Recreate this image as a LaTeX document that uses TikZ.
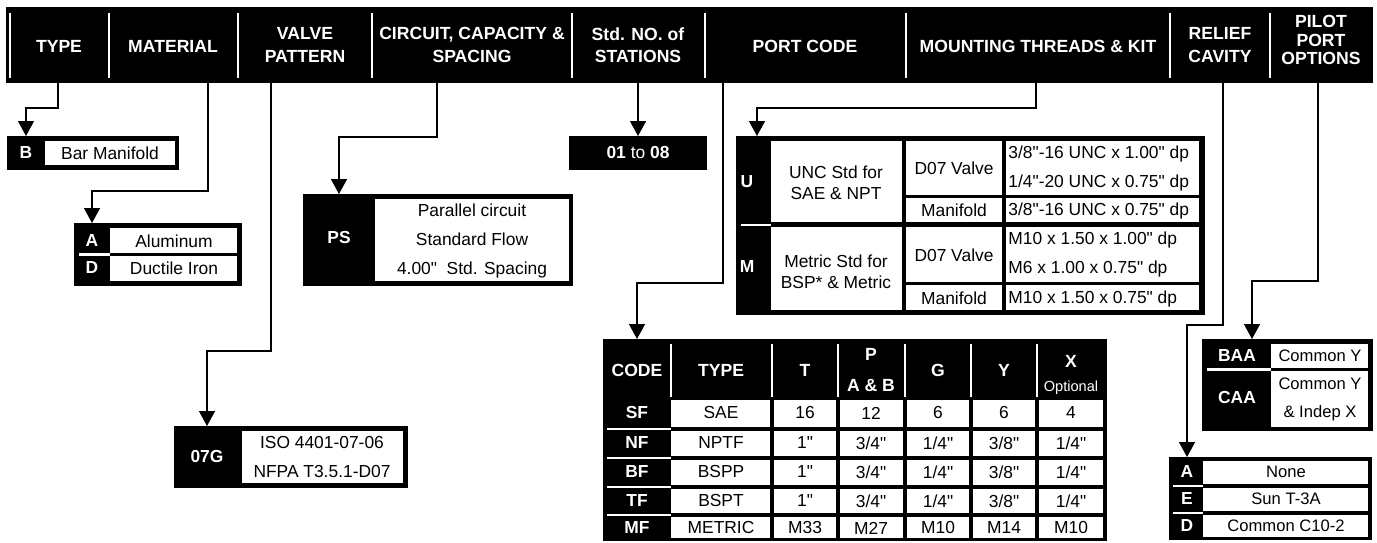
\documentclass[tikz,border=0pt]{standalone}
\usepackage{fontspec}
\setmainfont{Liberation Sans}[Ligatures=TeXOff]
\usetikzlibrary{arrows.meta,calc,fit}

\begin{document}
\begin{tikzpicture}[x=0.5pt, y=-0.5pt,
    every node/.style={font=\fontsize{8.7}{10.5}\selectfont, inner sep=0pt},
    hd/.style={text=white, font=\fontsize{8.8}{11.25}\selectfont\bfseries, align=center},
    code/.style={text=white, font=\fontsize{8.7}{10.5}\selectfont\bfseries},
    frame/.style={fill=black, inner sep=0pt, outer sep=0pt},
    sep/.style={white, line width=1.3pt},
    link/.style={line width=0.7pt, -{Triangle[length=7.5pt, width=8pt]}},
    lst/.style={font=\fontsize{8.7}{14.5}\selectfont, align=center},
    sml/.style={font=\fontsize{8.3}{10}\selectfont}]
    \useasboundingbox (0,0) rectangle (1377,542);
    % Header bar
    \node[frame, fit={(6,7)(1373,83)}] (hdr) {};
    \foreach \x in {10,109,238,372,572,705,906,1170,1270}
      \draw[sep] (\x,13) -- (\x,78);
    \node[hd] (h-type) at (59,46) {TYPE};
    \node[hd] (h-mat) at (173,46) {MATERIAL};
    \node[hd] (h-valve) at (305,45) {VALVE\\PATTERN};
    \node[hd] (h-circ) at (472,45) {CIRCUIT, CAPACITY \&\\SPACING};
    \node[hd] (h-stat) at (638,45) {Std. NO. of\\STATIONS};
    \node[hd] (h-port) at (805,46) {PORT CODE};
    \node[hd] (h-mount) at (1038,46) {MOUNTING THREADS \& KIT};
    \node[hd] (h-relief) at (1220,45) {RELIEF\\CAVITY};
    \node[hd, font=\fontsize{8.8}{9.2}\selectfont\bfseries] (h-pilot) at (1321,40) {PILOT\\PORT\\OPTIONS};
    \foreach \n/\x in {type/58,mat/208,valve/271,circ/437,stat/638,port/723,mount/1036,relief/1223,pilot/1318}
      \coordinate (t-\n) at (\x,83);

    % Type
    \node[frame, fit={(7,136)(179,170)}] (b-box) {};
    \fill[white] (45,141) rectangle (175,165);
    \node[code] (b-code) at (26,153) {B};
    \node (b-txt) at (110,153) {Bar Manifold};

    % Material
    \node[frame, fit={(74,223)(242,286)}] (ad-box) {};
    \fill[white] (110,228) rectangle (237,253);
    \fill[white] (110,256) rectangle (237,281);
    \draw[sep] (79,254.5) -- (110,254.5);
    \node[code] (mat-a) at (92,241) {A};
    \node[code] (mat-d) at (92,268) {D};
    \node (mat-at) at (174,241) {Aluminum};
    \node (mat-dt) at (174,268) {Ductile Iron};

    % Valve pattern
    \node[frame, fit={(174,426)(408,488)}] (g-box) {};
    \fill[white] (242,431) rectangle (403,483);
    \node[code] (g-code) at (207,457) {07G};
    \node[lst] (g-txt) at (322,457) {ISO 4401-07-06\\NFPA T3.5.1-D07};

    % Circuit, capacity & spacing
    \node[frame, fit={(303,194)(573,286)}] (ps-box) {};
    \fill[white] (375,199) rectangle (569,281);
    \node[code] (ps-code) at (339,238) {PS};
    \node[lst] (ps-txt) at (472,241) {Parallel circuit\\Standard Flow\\4.00"\ \ Std. Spacing};

    % Stations
    \node[frame, fit={(569,136)(707,170)}] (n-box) {};
    \node[text=white] (n-txt) at (638,153) {\textbf{01} to \textbf{08}};

    % Mounting threads & kit
    \node[frame, fit={(736,136)(1205,315)}] (mt-box) {};
    \foreach \a/\b/\c/\d in {771/141/902/222, 906/141/1002/195, 1006/141/1199/195,
        906/198/1002/222, 1006/198/1199/222, 771/227/902/310, 906/227/1002/282,
        1006/227/1199/282, 906/285/1002/310, 1006/285/1199/310}
      \fill[white] (\a,\b) rectangle (\c,\d);
    \draw[sep] (741,225) -- (771,225);
    \node[code] (m-u) at (747,182) {U};
    \node[code] (m-m) at (747,267) {M};
    \node[align=center] (m-unc) at (836,183) {UNC Std for\\SAE \& NPT};
    \node[align=center] (m-met) at (836,272) {Metric Std for\\BSP* \& Metric};
    \node (m-v1) at (954,168) {D07 Valve};
    \node (m-f1) at (954,210) {Manifold};
    \node (m-v2) at (954,255) {D07 Valve};
    \node (m-f2) at (954,298) {Manifold};
    \node[anchor=west] (m-t1) at (1008,154) {3/8"-16 UNC x 1.00" dp};
    \node[anchor=west] (m-t2) at (1008,183) {1/4"-20 UNC x 0.75" dp};
    \node[anchor=west] (m-t3) at (1008,211) {3/8"-16 UNC x 0.75" dp};
    \node[anchor=west] (m-t4) at (1008,240) {M10 x 1.50 x 1.00" dp};
    \node[anchor=west] (m-t5) at (1008,269) {M6 x 1.00 x 0.75" dp};
    \node[anchor=west] (m-t6) at (1008,299) {M10 x 1.50 x 0.75" dp};

    % Port code table
    \node[frame, fit={(603,339)(1107,541)}] (pc-box) {};
    \foreach \x in {671,772,838,905,971,1037}
      \draw[sep] (\x,344) -- (\x,397);
    \foreach \a/\b in {671/770, 774/836, 840/903, 907/969, 973/1035, 1039/1103}
      \foreach \c/\d in {400/427, 431/456, 460/485, 489/513, 517/538}
        \fill[white] (\a,\c) rectangle (\b,\d);
    \foreach \y in {429,458,487,515}
      \draw[sep] (607,\y) -- (671,\y);
    \node[hd] (pc-code) at (637,370) {CODE};
    \node[hd] (pc-type) at (721,370) {TYPE};
    \node[hd] (pc-t) at (805,370) {T};
    \node[hd, font=\fontsize{8.8}{15.5}\selectfont\bfseries] (pc-p) at (871,370) {P\\A \& B};
    \node[hd] (pc-g) at (938,370) {G};
    \node[hd] (pc-y) at (1004,370) {Y};
    \node[hd] (pc-x) at (1071,361) {X};
    \node[text=white, font=\fontsize{7.3}{8}\selectfont] (pc-opt) at (1071,388) {Optional};
    \foreach \y/\c in {413/SF, 443/NF, 472/BF, 501/TF, 528/MF}
      \node[code] (pc-\c) at (637,\y) {\c};
    \foreach \x/\v in {721/SAE, 805/16, 871/12, 938/6, 1004/6, 1071/4}
      \node (sf-\x) at (\x,413) {\v};
    \foreach \x/\v in {721/NPTF, 805/1", 871/{3/4"}, 938/{1/4"}, 1004/{3/8"}, 1071/{1/4"}}
      \node (nf-\x) at (\x,443) {\v};
    \foreach \x/\v in {721/BSPP, 805/1", 871/{3/4"}, 938/{1/4"}, 1004/{3/8"}, 1071/{1/4"}}
      \node (bf-\x) at (\x,472) {\v};
    \foreach \x/\v in {721/BSPT, 805/1", 871/{3/4"}, 938/{1/4"}, 1004/{3/8"}, 1071/{1/4"}}
      \node (tf-\x) at (\x,501) {\v};
    \foreach \x/\v in {721/METRIC, 805/M33, 871/M27, 938/M10, 1004/M14, 1071/M10}
      \node (mf-\x) at (\x,528) {\v};

    % Relief cavity
    \node[frame, fit={(1169,457)(1372,540)}] (rl-box) {};
    \foreach \a/\b in {461/484, 488/511, 515/537}
      \fill[white] (1203,\a) rectangle (1368,\b);
    \foreach \y in {486,513}
      \draw[sep] (1173,\y) -- (1203,\y);
    \node[code] (r-a) at (1187,472) {A};
    \node[code] (r-e) at (1187,499) {E};
    \node[code] (r-d) at (1187,526) {D};
    \node[sml] (r-at) at (1286,472) {None};
    \node[sml] (r-et) at (1286,499) {Sun T-3A};
    \node[sml] (r-dt) at (1286,526) {Common C10-2};

    % Pilot port options
    \node[frame, fit={(1202,339)(1373,431)}] (pp-box) {};
    \fill[white] (1271,344) rectangle (1368,368);
    \fill[white] (1271,371) rectangle (1368,427);
    \draw[sep] (1207,369.5) -- (1271,369.5);
    \node[code] (baa) at (1237,356) {BAA};
    \node[code] (caa) at (1237,398) {CAA};
    \node[sml] (baa-t) at (1320,356) {Common Y};
    \node[sml, font=\fontsize{8.3}{14}\selectfont, align=center] (caa-t) at (1320,399) {Common Y\\\& Indep X};

    % Connectors
    \draw[link] (t-type) -- ++(0,25) -| (b-code |- b-box.north);
    \draw[link] (t-mat) -- ++(0,108) -| (mat-a |- ad-box.north);
    \draw[link] (t-valve) -- ++(0,268) -| (g-code |- g-box.north);
    \draw[link] (t-circ) -- ++(0,54) -| (ps-code |- ps-box.north);
    \draw[link] (t-stat) -- (n-txt |- n-box.north);
    \draw[link] (t-port) -- ++(0,200) -| (pc-code |- pc-box.north);
    \draw[link] (t-mount) -- ++(0,25) -| ($(m-u |- mt-box.north)+(10,0)$);
    \draw[link] (t-relief) -- ++(0,242) -| (r-a |- rl-box.north);
    \draw[link] (t-pilot) -- ++(0,198) -| ($(baa |- pp-box.north)+(15,0)$);
\end{tikzpicture}
\end{document}
